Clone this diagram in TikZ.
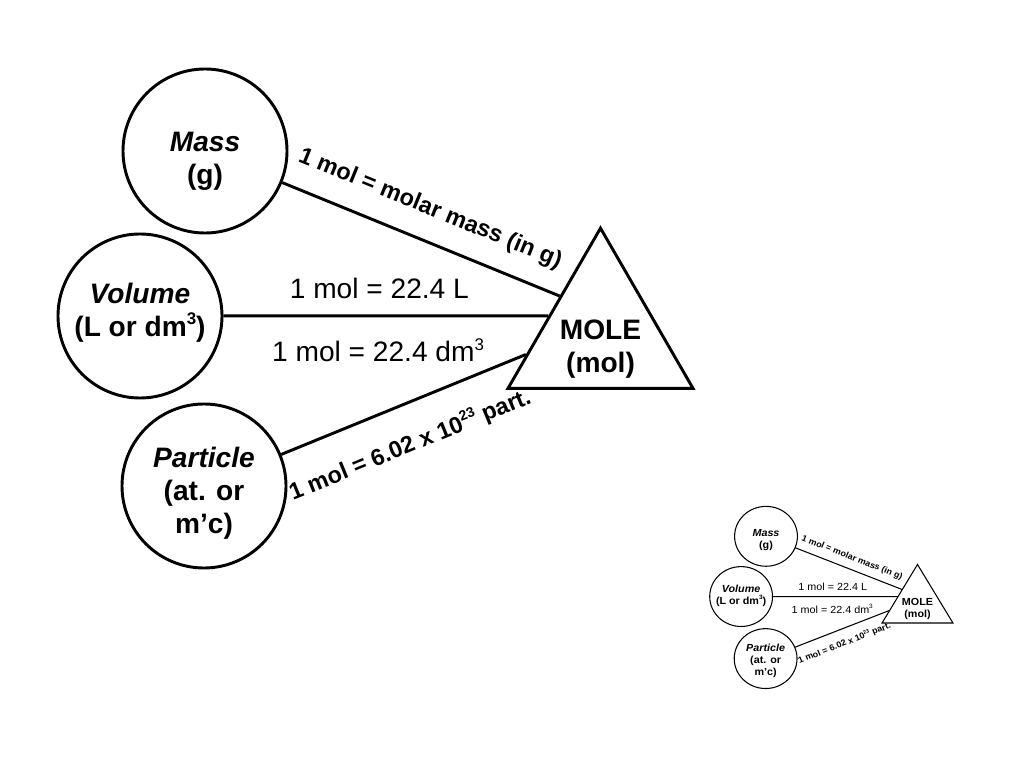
\documentclass[tikz,border=0pt]{standalone}
\usepackage{fontspec}
\setmainfont{Liberation Sans}
\usetikzlibrary{shapes.geometric,calc}
\newcommand{\pw}[1]{\raisebox{0.42em}{\scalebox{0.6}{#1}}}

\begin{document}
\begin{tikzpicture}[
    x=0.03cm, y=-0.03cm,
    ball/.style={draw, circle, minimum size=4.92cm, inner sep=0pt},
    tri/.style={draw, regular polygon, regular polygon sides=3, minimum size=6.41cm, inner sep=0pt},
    txt/.style={font=\fontsize{24}{28}\selectfont\bfseries, align=center},
    eq/.style={font=\fontsize{24}{28}\selectfont, inner sep=0pt},
    rel/.style={font=\fontsize{20}{24}\selectfont\bfseries, inner sep=0pt, sloped}
]
\useasboundingbox[fill=white] (0,0) rectangle (1024,768);

% big diagram, then its small copy in the corner
\foreach \sx/\sy/\dx/\dy/\lw in {1/1/0/0/2.5pt, 0.383/0.365/687.5/481.2/0.9pt}{
\begin{scope}[shift={(\dx,\dy)}, xscale=\sx, yscale=\sy, transform shape, line width=\lw]
\node[ball, label={[txt, yshift=-0.32cm]center:{\textit{Mass}\\(g)}}] (mass) at (205,151) {};
\node[ball, label={[txt, yshift=0.09cm]center:{\textit{Volume}\\(L or dm\pw{3})}}] (vol) at (140,316) {};
\node[ball, label={[txt, yshift=-0.21cm]center:{\textit{Particle}\\(at. or\\m’c)}}] (part) at (204,486) {};
\node[tri, label={[txt, yshift=-0.42cm]center:{MOLE\\(mol)}}] (mole) at (600.5,335) {};

\draw (mass) -- node[rel, pos=0.49, above=0.57cm] {1 mol = molar mass (in g)} ($(mole.corner 1)!0.43!(mole.corner 2)$);
\draw (vol) -- node[eq, pos=0.48, above=0.48cm] {1 mol = 22.4 L}
    node[eq, pos=0.476, below=0.63cm] {1 mol = 22.4 dm\pw{3}} ($(mole.corner 1)!0.55!(mole.corner 2)$);
\draw (part) -- node[rel, pos=0.465, below=0.78cm] {1 mol = 6.02 x 10\pw{23} part.} ($(mole.corner 1)!0.785!(mole.corner 2)$);
\end{scope}
}
\end{tikzpicture}
\end{document}
